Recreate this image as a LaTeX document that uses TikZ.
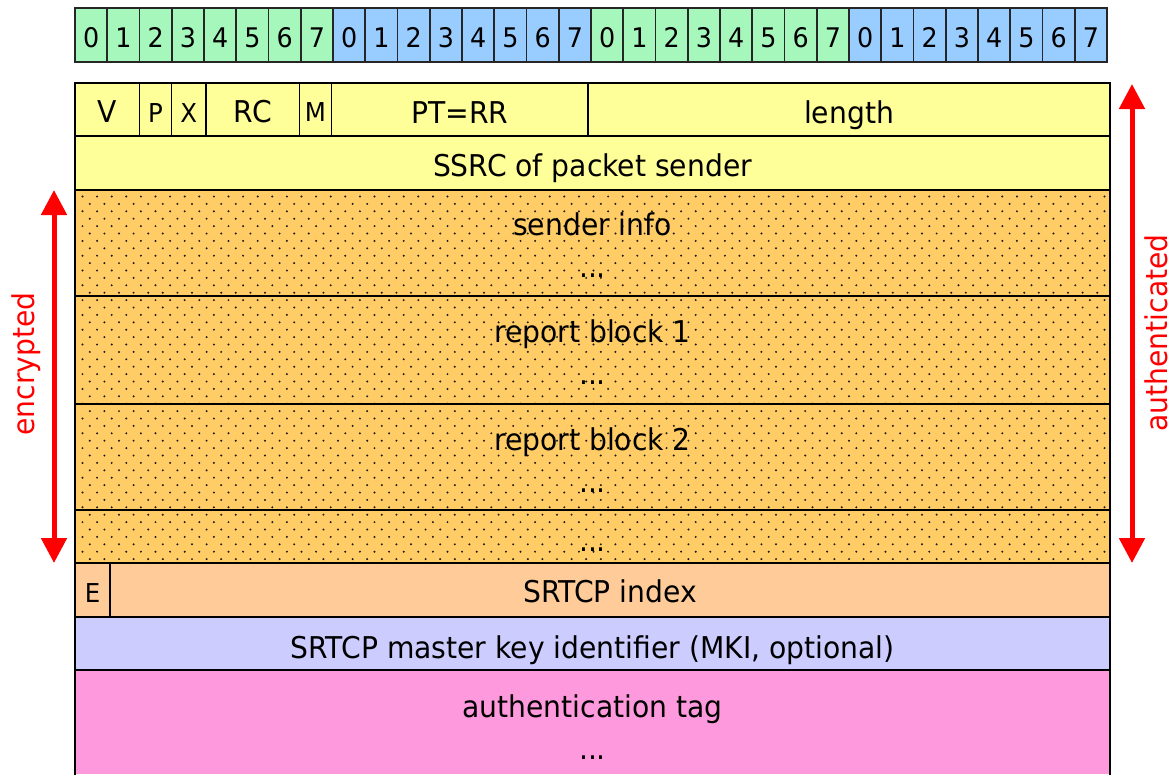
\documentclass[tikz,border=0pt]{standalone}
\usepackage{fontspec}
\setmainfont{DejaVu Sans}[FakeStretch=0.94]
\usetikzlibrary{arrows.meta}
\definecolor{bitgreen}{RGB}{166,247,187}
\definecolor{bitblue}{RGB}{153,204,255}
\definecolor{hdryellow}{RGB}{255,255,153}
\definecolor{dotorange}{RGB}{255,204,102}
\definecolor{peach}{RGB}{255,204,153}
\definecolor{lavender}{RGB}{204,204,255}
\definecolor{pinktag}{RGB}{255,153,221}
\begin{document}
\begin{tikzpicture}[x=1pt,y=-1pt,
  cellline/.style={draw=black!85, line width=1.6pt},
  field/.style={draw=black, line width=1.8pt},
  bigtxt/.style={font=\fontsize{30}{36}\selectfont, anchor=base, inner sep=0pt},
  smalltxt/.style={font=\fontsize{26}{31}\selectfont, anchor=base, inner sep=0pt},
  digittxt/.style={font=\fontsize{27}{32}\selectfont, anchor=base, inner sep=0pt},
  redlabel/.style={font=\fontsize{30}{36}\selectfont, text=red, inner sep=0pt},
  redarrow/.style={draw=red, line width=5pt, arrows={Triangle[length=25pt,width=25pt]-Triangle[length=25pt,width=25pt]}}]
\useasboundingbox (0,0) rectangle (1175,774);
% bit ruler
\foreach \i in {0,...,31}{
  \pgfmathtruncatemacro\grp{mod(int(\i/8),2)}
  \pgfmathtruncatemacro\dig{mod(\i,8)}
  \ifnum\grp=0 \def\bc{bitgreen}\else\def\bc{bitblue}\fi
  \draw[cellline, fill=\bc] ({75+32.25*\i},8) rectangle ({75+32.25*(\i+1)},62);
  \node[digittxt] (bit\i) at ({75+32.25*(\i+0.5)},47) {\dig};
}
% row 1
\draw[field, fill=hdryellow] (75,83) rectangle (139.5,136);
\draw[field, fill=hdryellow] (139.5,83) rectangle (171.5,136);
\draw[field, fill=hdryellow] (171.5,83) rectangle (206,136);
\draw[field, fill=hdryellow] (206,83) rectangle (299.5,136);
\draw[field, fill=hdryellow] (299.5,83) rectangle (331.5,136);
\draw[field, fill=hdryellow] (331.5,83) rectangle (588,136);
\draw[field, fill=hdryellow] (588,83) rectangle (1110,136);
% row 2
\draw[field, fill=hdryellow] (75,136) rectangle (1110,190);
% dotted rows
\fill[dotorange] (75,190) rectangle (1110,563);
\begin{scope}
\clip (77,192) rectangle (1108,561);
\foreach \r in {0,...,49}{
  \pgfmathsetmacro\yy{196.5+7.4*\r}
  \pgfmathsetmacro\xo{82.5+7.3*mod(\r,2)}
  \foreach \c in {0,...,70}{
    \fill[black!90] ({\xo+14.6*\c},\yy) circle (1.1pt);
  }
}
\end{scope}
\draw[field] (75,190) rectangle (1110,296);
\draw[field] (75,296) rectangle (1110,404);
\draw[field] (75,404) rectangle (1110,510);
\draw[field] (75,510) rectangle (1110,563);
% row 7
\draw[field, fill=peach] (75,563) rectangle (110,617);
\draw[field, fill=peach] (110,563) rectangle (1110,617);
% row 8
\draw[field, fill=lavender] (75,617) rectangle (1110,670);
% row 9
\fill[pinktag] (75,670) rectangle (1110,774);
\draw[field] (75,776) -- (75,670) -- (1110,670) -- (1110,776);
% texts
\node[bigtxt] (v) at (107.25,122) {V};
\node[smalltxt] (p) at (155.5,122) {P};
\node[smalltxt] (x) at (188.75,122) {X};
\node[bigtxt] (rc) at (252.75,122) {RC};
\node[smalltxt] (m) at (315.5,121) {M};
\node[bigtxt] (pt) at (459.75,123) {PT=RR};
\node[bigtxt] (len) at (849,123) {length};
\node[bigtxt] (ssrc) at (592.5,176) {SSRC of packet sender};
\node[bigtxt] (si) at (592.5,235) {sender info};
\node[bigtxt] (sid) at (592.5,277) {...};
\node[bigtxt] (rb1) at (592.5,342) {report block 1};
\node[bigtxt] (rb1d) at (592.5,384) {...};
\node[bigtxt] (rb2) at (592.5,450) {report block 2};
\node[bigtxt] (rb2d) at (592.5,492) {...};
\node[bigtxt] (more) at (592.5,551) {...};
\node[smalltxt] (e) at (92.5,602) {E};
\node[bigtxt] (idx) at (610,602) {SRTCP index};
\node[bigtxt] (mki) at (592.5,658) {SRTCP master key identifier (MKI, optional)};
\node[bigtxt] (tag) at (592.5,717) {authentication tag};
\node[bigtxt] (tagd) at (592.5,759) {...};
% arrows
\coordinate (encTop) at (54,190);
\coordinate (encBot) at (54,563);
\coordinate (authTop) at (1132,84);
\coordinate (authBot) at (1132,563);
\draw[redarrow] (encTop) -- (encBot);
\draw[redarrow] (authTop) -- (authBot);
\node[redlabel, rotate=90] (enc) at (26,364) {encrypted};
\node[redlabel, rotate=90] (auth) at (1156,333) {authenticated};
\end{tikzpicture}
\end{document}
